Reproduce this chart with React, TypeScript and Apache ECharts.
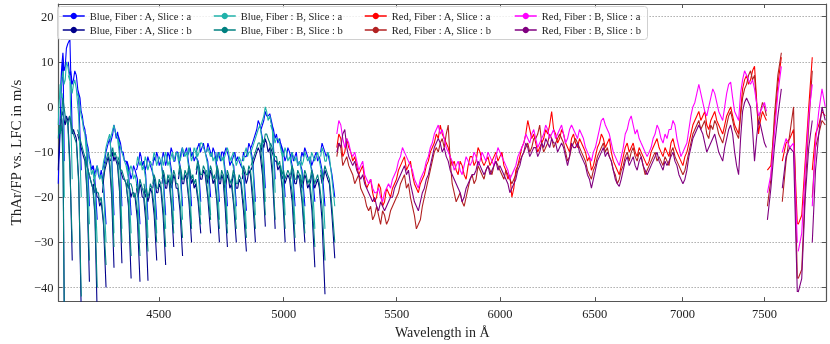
import React, { useEffect, useRef } from 'react';
import * as echarts from 'echarts';

const xTickLabels = [4500, 5000, 5500, 6000, 6500, 7000, 7500];
const yTickLabels = [-40, -30, -20, -10, 0, 10, 20];
const xRange = [4134.6, 7900];
const yRange = [-43, 22.8];

const seriesNames = [
  'Blue, Fiber : A, Slice : a',
  'Blue, Fiber : A, Slice : b',
  'Blue, Fiber : B, Slice : a',
  'Blue, Fiber : B, Slice : b',
  'Red, Fiber : A, Slice : a',
  'Red, Fiber : A, Slice : b',
  'Red, Fiber : B, Slice : a',
  'Red, Fiber : B, Slice : b',
];
const seriesColors = ['#0000ff', '#00008b', '#20b2aa', '#008080', '#ff0000', '#b22222', '#ff00ff', '#800080'];

// Blue arm: echelle orders (wavelength start / end in Å), sample positions inside an order
const blueOrderStart = [4134, 4142, 4169, 4202, 4231, 4258, 4291, 4320, 4347, 4381, 4416, 4444, 4477, 4512, 4542, 4575, 4610, 4644, 4685, 4722, 4752, 4786, 4828, 4864, 4905, 4945, 4987, 5029, 5071, 5113, 5158];
const blueOrderEnd = [4155, 4183, 4215, 4244, 4272, 4304, 4333, 4362, 4396, 4429, 4459, 4492, 4526, 4557, 4591, 4626, 4662, 4701, 4736, 4768, 4804, 4845, 4882, 4923, 4964, 5006, 5048, 5090, 5133, 5177, 5220];
const blueOrderFrac = [0, 0.1, 0.2, 0.3, 0.4, 0.5, 0.62, 0.8, 1];

const blueAa = [
  [-17, -12, -10, -3, 0, 4, 6, 10, -12], [4, 9, 12, 8, 9, 13, 14, 15, -6], [10, 7, 8, 5, 6, 8, 7, 2, -14],
  [4, 3, 2, -1, -2, -4, -5, -10, -22], [-6, -8, -9, -11, -12, -14, -13, -16, -25], [-13, -15, -14, -13, -15, -16, -14, -17, -26],
  [-14, -13, -12, -10, -9, -8, -7, -11, -24], [-8, -7, -6, -4, -5, -7, -5.5, -9, -22], [-6, -7, -8, -10, -10, -12, -12, -14, -24],
  [-12, -13, -14, -16, -15, -13, -14, -16, -26], [-14, -13, -12, -10, -11, -13, -12, -15, -25], [-12, -14, -13, -11, -12, -13, -14, -16, -25],
  [-13, -11, -12, -10, -11, -13, -12, -15, -24], [-12, -10, -11, -13, -12, -10, -11, -14, -23], [-11, -9, -10, -12, -12, -10, -10, -13, -22],
  [-11, -12, -10, -9, -11, -10, -9, -13, -22], [-11, -10, -9, -11, -10, -12, -11, -12, -21], [-10, -9, -8, -10, -9, -8, -10, -12, -20],
  [-10, -8, -9, -10, -11, -9, -10, -13, -21], [-11, -12, -10, -11, -12, -10, -10, -14, -22], [-11, -10, -9, -10, -11, -13, -12, -13, -22],
  [-12, -11, -10, -12, -11, -12, -13, -14, -23], [-12, -10, -11, -11, -10, -8, -9, -12, -21], [-9, -8, -7, -6, -5, -3, -4, -7, -18],
  [-5, -4, -3, -1, -2, -2, -1.5, -4, -16], [-3, -4, -5, -7, -6, -8, -7, -10, -20], [-8, -9, -10, -12, -11, -9, -10, -13, -22],
  [-11, -10, -12, -11, -10, -13, -12, -14, -22], [-12, -10, -11, -9, -10, -11, -12, -14, -21], [-11, -13, -12, -11, -10, -12, -11, -14, -22],
  [-10, -8, -9, -10, -11, -10, -12, -15, -20],
];
const blueAb = [
  [-14, -10, -8, -5, -4, -2, -3, -10, -46], [-3, -2, -1, -3, -4, -2, -3, -12, -34], [-3, -2, -4, -6, -5, -6, -7, -16, -46],
  [-6, -7, -8, -9, -10, -11, -12, -19, -38.7], [-12, -13, -14, -15, -16, -17, -18, -24, -46], [-17, -19, -18, -20, -20, -22, -21, -26, -40],
  [-19, -16, -14, -13, -12, -11, -13, -20, -35.6], [-12, -11, -10, -12, -11, -12, -13, -19, -34.6], [-12, -13, -14, -15, -16, -16, -17, -22, -38],
  [-17, -18, -18, -20, -19, -19, -20, -25, -38.7], [-18, -20, -19, -17, -18, -20, -20, -25, -38.5], [-18, -20, -19, -21, -20, -18, -19, -24, -34],
  [-18, -16, -17, -19, -19, -17, -18, -24, -35], [-17, -15, -16, -18, -18, -16, -17, -22, -31], [-16, -18, -17, -15, -16, -18, -18, -23, -33],
  [-16, -14, -15, -17, -17, -15, -16, -21, -30], [-16, -14, -15, -17, -16, -18, -17, -21, -28], [-15, -13, -14, -16, -16, -14, -15, -20, -28],
  [-15, -17, -16, -14, -15, -17, -16, -21, -30], [-16, -14, -15, -17, -17, -15, -16, -22, -31], [-16, -18, -17, -15, -16, -18, -17, -22, -30],
  [-17, -15, -16, -18, -18, -16, -17, -23, -32], [-16, -14, -15, -17, -16, -14, -15, -21, -30], [-14, -13, -12, -11, -10, -9, -10, -15, -26.5],
  [-10, -8, -9, -7, -8, -10, -9, -15, -27], [-9, -10, -11, -12, -12, -14, -13, -18, -30], [-14, -16, -15, -17, -16, -15, -16, -21, -32],
  [-16, -14, -15, -17, -17, -15, -16, -21, -30], [-16, -18, -17, -15, -16, -18, -17, -23, -35.5], [-17, -15, -16, -18, -17, -16, -18, -25, -41.5],
  [-15, -17, -16, -14, -15, -16, -17, -24, -33.5],
];
const blueBa = [
  [-4, 0, 2, 5, 4, 2, 3, 0, -20], [3, 6, 8, 5, 6, 10, 9, 6, -16], [7, 6, 5, 3, 5, 6, 4, -2, -20],
  [3, 2, 0, -2, -3, -5, -6, -12, -26], [-7, -9, -10, -12, -13, -15, -14, -18, -30], [-14, -16, -15, -13, -14, -16, -15, -18, -30],
  [-14, -12, -11, -9, -8, -7, -6, -12, -28], [-7, -6, -5, -4, -5.5, -6, -7, -11, -27], [-7, -8, -9, -10, -11, -12, -13, -16, -28],
  [-13, -15, -14, -13, -14, -16, -15, -18, -30], [-13, -11, -12, -13, -12, -14, -13, -16, -29], [-13, -11, -12, -14, -13, -12, -13, -17, -28],
  [-12, -10, -11, -13, -12, -11, -12, -16, -27], [-11, -13, -12, -10, -11, -13, -12, -15, -26], [-12, -11, -10, -12, -11, -10, -11, -14, -25],
  [-10, -12, -11, -9, -10, -11, -10, -14, -26], [-11, -9, -10, -12, -11, -9, -10, -13, -24], [-9, -11, -10, -8, -8, -9, -10, -13, -24],
  [-10, -9, -10, -11, -10, -12, -11, -14, -25], [-10, -12, -11, -10, -11, -12, -11, -15, -26], [-12, -11, -10, -9, -10, -12, -11, -14, -25],
  [-11, -10, -11, -13, -12, -11, -12, -15, -27], [-11, -12, -10, -9, -11, -10, -10, -13, -24], [-10, -9, -8, -7, -6, -5, -4, -8, -21],
  [-4, -3, -2, 0, -1, -3, -2, -5, -19], [-4, -5, -6, -8, -7, -7, -8, -11, -24], [-9, -10, -11, -9, -10, -12, -11, -14, -26],
  [-12, -10, -11, -12, -11, -13, -12, -15, -26], [-11, -13, -12, -10, -11, -12, -11, -15, -27], [-12, -10, -11, -12, -11, -10, -12, -15, -27],
  [-11, -9, -10, -12, -12, -10, -11, -16, -22],
];
const blueBb = [
  [-7, -5, -4, -6, -5, -4, -6, -14, -46], [-5, -1, 2, 0, -2, -3, -4, -14, -30], [-4, -2, -3, -5, -6, -7, -8, -17, -42],
  [-5, -6, -7, -8, -9, -10, -11, -18, -34], [-11, -13, -14, -15, -16, -17, -18, -23, -40], [-16, -17, -18, -19, -19, -21, -20, -25, -35],
  [-17, -15, -13, -12, -11, -10, -12, -18, -31], [-11, -10, -9, -11, -10, -11, -12, -18, -30], [-11, -12, -14, -14, -15, -16, -17, -21, -33],
  [-16, -18, -17, -17, -18, -20, -19, -23, -33], [-17, -19, -18, -16, -17, -18, -19, -23, -32], [-17, -19, -18, -20, -19, -17, -18, -22, -30],
  [-17, -15, -16, -18, -18, -16, -17, -22, -31], [-16, -14, -15, -17, -17, -15, -16, -21, -28], [-15, -17, -16, -14, -15, -17, -17, -21, -29],
  [-15, -13, -14, -16, -16, -14, -15, -20, -27], [-15, -13, -14, -16, -15, -17, -16, -20, -26], [-14, -12, -13, -15, -15, -13, -14, -19, -25],
  [-14, -16, -15, -13, -14, -16, -15, -20, -27], [-15, -13, -14, -16, -16, -14, -15, -20, -28], [-15, -17, -16, -14, -15, -17, -16, -21, -27],
  [-16, -14, -15, -17, -17, -15, -16, -21, -29], [-15, -13, -14, -15, -15, -13, -14, -19, -27], [-13, -12, -11, -10, -9, -8, -8, -13, -24],
  [-9, -7, -8, -6, -6, -7, -8, -13, -25], [-8, -9, -10, -11, -11, -13, -12, -17, -27], [-13, -15, -14, -16, -15, -14, -15, -19, -29],
  [-15, -13, -14, -16, -16, -14, -15, -20, -28], [-15, -17, -16, -14, -15, -17, -16, -21, -31], [-16, -14, -15, -17, -16, -15, -17, -22, -34],
  [-14, -16, -15, -13, -14, -15, -16, -22, -30],
];

// Red arm: segments (wavelength start / end in Å)
const redSegStart = [5229, 7519, 7614, 7717, 7809];
const redSegEnd = [7513, 7608, 7711, 7809, 7895];

const redAa = [
  [-9, -6, -7, -11, -10, -7, -9, -10, -12, -11, -13, -15, -14, -13, -16, -18, -17, -16, -19, -21,
   -20, -17, -18, -22, -21, -18, -19, -20, -18, -17, -16, -14, -13, -12, -11, -14, -13, -12, -15, -17,
   -18, -19, -17, -16, -15, -13, -12, -10, -9, -8, -6, -7, -4, -6, -7, -8, -9, -11, -13, -12,
   -14, -15, -12, -13, -15, -16, -13, -11, -11, -13, -12, -9, -10, -12, -13, -12, -11, -13, -12, -11,
   -10, -12, -11, -10, -13, -14, -16, -15, -20, -18, -14, -13, -11, -9, -8, -6, -3, -5, -7, -6,
   -8, -10, -9, -8, -7, -5, -6, -4, -1, -5, -6, -8, -7, -5, -6, -8, -9, -10, -7, -6,
   -8, -9, -7, -8, -9, -10, -12, -11, -14, -13, -11, -9, -8, -6, -7, -9, -8, -7, -10, -12,
   -13, -14, -15, -13, -11, -9, -8, -10, -9, -8, -10, -11, -9, -10, -11, -12, -13, -12, -10, -9,
   -8, -7, -9, -10, -11, -9, -10, -11, -8, -7, -9, -10, -11, -12, -13, -11, -10, -8, -6, -4,
   -3, -2, -1, -3, -2, -1, -4, -5, -3, -2, -1, -3, -4, -5, -6, -4, -2, -1, 0, -2,
   -4, -5, -6, -1, 4, 6, 7, 5, 6, 8, 9, 2, -6, -3, -1, -2, -3],
  [-14, -13, -4, 5, 11],
  [-12, -8, -7, -5, -26],
  [-26, -24, -12, 0, 11],
  [-14, -6, -4, -1, -2],
];
const redAb = [
  [-11, -8, -9, -13, -12, -11, -13, -14, -15, -17, -16, -15, -18, -19, -20, -22, -23, -22, -25, -24,
   -22, -24, -26, -23, -24, -26, -25, -23, -22, -21, -20, -19, -17, -16, -15, -18, -17, -20, -22, -24,
   -27, -26, -25, -22, -20, -18, -16, -14, -12, -10, -9, -10, -8, -7, -9, -6, -4, -12, -17, -19,
   -21, -20, -19, -21, -22, -20, -18, -16, -15, -17, -16, -13, -14, -15, -16, -14, -13, -14, -15, -13,
   -12, -13, -14, -15, -16, -14, -15, -16, -17, -16, -15, -13, -12, -11, -10, -9, -8, -10, -9, -7,
   -7, -6, -4, -8, -10, -9, -8, -6, -7, -9, -8, -7, -6, -7, -8, -10, -12, -11, -9, -8,
   -7, -8, -9, -10, -11, -12, -14, -15, -16, -14, -13, -11, -10, -9, -8, -10, -9, -11, -12, -14,
   -15, -17, -16, -14, -13, -11, -10, -12, -10, -9, -11, -12, -10, -11, -13, -15, -14, -13, -12, -11,
   -10, -12, -11, -12, -13, -11, -12, -13, -10, -9, -11, -12, -13, -14, -15, -14, -12, -10, -8, -6,
   -5, -4, -3, -5, -4, -3, -6, -7, -4, -5, -3, -4, -6, -7, -8, -6, -4, -2, -1, -3,
   -5, -6, -7, -2, 2, 4, 5, 7, 8, 6, 7, 1, -4, -1, 1, 0, -2],
  [-22, -16, -2, 7, 12],
  [-21, -12, -6, 0, -38],
  [-38, -36, -18, -4, 8],
  [-20, -9, -6, -3, -4],
];
const redBa = [
  [-6, -3, -4, -7, -9, -7, -8, -10, -11, -10, -12, -14, -13, -12, -15, -16, -17, -16, -18, -19,
   -19, -18, -20, -21, -19, -18, -17, -18, -16, -15, -14, -12, -11, -9, -10, -11, -12, -13, -14, -16,
   -17, -18, -16, -15, -14, -12, -11, -9, -8, -6, -5, -4, -6, -5, -7, -9, -10, -11, -12, -14,
   -13, -12, -14, -15, -13, -11, -12, -13, -12, -10, -11, -13, -12, -10, -11, -12, -10, -11, -12, -13,
   -11, -9, -10, -11, -12, -13, -14, -16, -15, -14, -13, -11, -10, -9, -8, -6, -7, -8, -6, -5,
   -7, -9, -8, -7, -6, -4, -5, -7, -6, -5, -7, -6, -5, -4, -6, -8, -7, -5, -4, -5,
   -6, -7, -5, -6, -7, -9, -10, -11, -12, -10, -9, -7, -5, -3, -2.5, -4, -5, -6, -8, -10,
   -11, -12, -13, -11, -9, -6, -5, -3, -2, -4, -6, -5, -7, -8, -9, -10, -11, -10, -9, -7,
   -6, -4, -5, -7, -8, -6, -7, -5, -5, -3, -4, -7, -9, -11, -10, -9, -8, -5, -2, 0,
   1, 3, 5, 3, 1, -1, -2, 0, 2, 4, 3, 1, -1, -2, -3, 0, 3, 5, 5.5, 2,
   -1, -2, -3, 3, 6, 8, 7, 6, 5, 6, 4, 1, -2, -1, 0, 1, -1],
  [-19, -15, -6, 3, 9],
  [-10, -7, -9, -8, -30],
  [-32, -28, -14, -2, 5],
  [-22, -8, -1, 4, 0],
];
const redBb = [
  [-10, -8, -9, -6, -5, -9, -11, -12, -13, -12, -14, -15, -16, -15, -17, -18, -19, -20, -21, -20,
   -22, -23, -21, -22, -23, -22, -21, -20, -20, -18, -17, -16, -15, -14, -13, -15, -14, -17, -19, -21,
   -22, -23, -21, -19, -18, -16, -15, -13, -11, -9, -8, -7, -8, -10, -9, -11, -12, -14, -15, -16,
   -17, -18, -19, -21, -20, -18, -17, -16, -15, -15, -14, -12, -13, -14, -15, -14, -13, -15, -14, -13,
   -12, -14, -13, -14, -15, -16, -17, -19, -18, -17, -16, -14, -13, -11, -10, -8, -9, -11, -10, -9,
   -9, -11, -10, -8, -9, -7, -8, -9, -7, -8, -8, -10, -9, -8, -9, -11, -13, -11, -8, -9,
   -9, -8, -10, -11, -12, -13, -15, -16, -18, -16, -14, -12, -11, -10, -9, -11, -10, -11, -12, -14,
   -16, -17, -17.6, -16, -14, -12, -11, -13, -12, -11, -13, -14, -12, -11, -13, -14, -15, -14, -13, -12,
   -11, -10, -12, -13, -14, -12, -13, -12, -11, -10, -12, -13, -15, -16, -17, -16, -14, -11, -9, -7,
   -6, -5, -4, -5, -6, -8, -10, -9, -8, -7, -6, -8, -10, -11, -12, -9, -7, -5, -4, -6,
   -10, -13, -15, -7, -1, 1, 2, 1, 0, -5, -12, -7, -3, -4, -6, -8, -9],
  [-25, -18, -9, -2, 4],
  [-18, -11, -9, -10, -41],
  [-41, -38, -20, -9, -3],
  [-30, -14, -6, 0, -3],
];

const FONT = "'Liberation Serif', 'DejaVu Serif', serif";

function buildData(starts: number[], ends: number[], values: number[][], frac?: number[]) {
  const out: any[] = [];
  values.forEach((seg, k) => {
    const a = Math.log(starts[k]);
    const b = Math.log(ends[k]);
    const n = seg.length;
    seg.forEach((v, j) => {
      const f = frac ? frac[j] : j / (n - 1);
      out.push([a + (b - a) * f, v]);
    });
    out.push([b, null]);
  });
  return out;
}

const fmtNum = (v: number) => (v < 0 ? '\u2212' + Math.abs(v) : String(v));

export default function App() {
  const ref = useRef<HTMLDivElement>(null);
  useEffect(() => {
    if (!ref.current) return;
    const chart = echarts.init(ref.current, undefined, { renderer: 'svg' });
    const xTicks = xTickLabels.map((v) => Math.log(v));
    const dataSets = [
      buildData(blueOrderStart, blueOrderEnd, blueAa, blueOrderFrac),
      buildData(blueOrderStart, blueOrderEnd, blueAb, blueOrderFrac),
      buildData(blueOrderStart, blueOrderEnd, blueBa, blueOrderFrac),
      buildData(blueOrderStart, blueOrderEnd, blueBb, blueOrderFrac),
      buildData(redSegStart, redSegEnd, redAa),
      buildData(redSegStart, redSegEnd, redAb),
      buildData(redSegStart, redSegEnd, redBa),
      buildData(redSegStart, redSegEnd, redBb),
    ];
    const frame = { show: true, onZero: false, lineStyle: { color: '#555', width: 1.2 } };
    const legendLefts = [62, 213, 364, 514];
    chart.setOption({
      animation: false,
      grid: { left: 54, right: 4, top: 4, bottom: 38 },
      graphic: [
        {
          type: 'rect',
          left: 57,
          top: 6,
          z: 3,
          shape: { width: 590, height: 33, r: 3 },
          style: { fill: 'rgba(255,255,255,0.8)', stroke: '#d0d0d0', lineWidth: 1 },
        },
      ],
      legend: legendLefts.map((left, c) => ({
        orient: 'vertical',
        left,
        top: 10,
        padding: 0,
        z: 4,
        itemWidth: 22,
        itemHeight: 8,
        itemGap: 2,
        data: [seriesNames[2 * c], seriesNames[2 * c + 1]],
        textStyle: { fontFamily: FONT, fontSize: 10.5, color: '#222', lineHeight: 12 },
        lineStyle: { width: 1.5 },
      })),
      xAxis: [
        {
          type: 'value',
          position: 'bottom',
          min: Math.log(xRange[0]),
          max: Math.log(xRange[1]),
          axisLine: frame,
          axisTick: { show: true, inside: true, length: 4, customValues: xTicks, lineStyle: { color: '#555' } },
          axisLabel: {
            customValues: xTicks,
            formatter: (v: number) => String(Math.round(Math.exp(v) / 10) * 10),
            fontFamily: FONT,
            fontSize: 12.5,
            color: '#222',
            margin: 6,
          },
          splitLine: { show: false },
          name: 'Wavelength in Å',
          nameLocation: 'middle',
          nameGap: 17,
          nameTextStyle: { fontFamily: FONT, fontSize: 14, color: '#222' },
        },
        {
          type: 'value',
          position: 'top',
          min: Math.log(xRange[0]),
          max: Math.log(xRange[1]),
          axisLine: frame,
          axisTick: { show: true, inside: true, length: 4, customValues: xTicks, lineStyle: { color: '#555' } },
          axisLabel: { show: false },
          splitLine: { show: false },
        },
      ],
      yAxis: [
        {
          type: 'value',
          min: yRange[0],
          max: yRange[1],
          axisLine: frame,
          axisTick: { show: true, inside: true, length: 4, customValues: yTickLabels, lineStyle: { color: '#555' } },
          axisLabel: {
            customValues: yTickLabels,
            formatter: fmtNum,
            fontFamily: FONT,
            fontSize: 12.5,
            color: '#222',
            margin: 5,
          },
          splitLine: { show: true, lineStyle: { color: '#999', width: 0.8, type: [1.5, 1.5] } },
          name: 'ThAr/FP vs. LFC in m/s',
          nameLocation: 'middle',
          nameGap: 30,
          nameRotate: 90,
          nameTextStyle: { fontFamily: FONT, fontSize: 15, color: '#222' },
        },
        {
          type: 'value',
          position: 'right',
          min: yRange[0],
          max: yRange[1],
          axisLine: frame,
          axisTick: { show: true, inside: true, length: 4, customValues: yTickLabels, lineStyle: { color: '#555' } },
          axisLabel: { show: false },
          splitLine: { show: false },
        },
      ],
      series: dataSets.map((data, i) => ({
        type: 'line',
        name: seriesNames[i],
        data,
        xAxisIndex: 0,
        yAxisIndex: 0,
        symbol: 'circle',
        symbolSize: 6,
        showSymbol: false,
        connectNulls: false,
        silent: true,
        z: 2,
        color: seriesColors[i],
        itemStyle: { color: seriesColors[i] },
        lineStyle: { width: 1.1, color: seriesColors[i] },
      })),
    });
    return () => chart.dispose();
  }, []);
  return <div ref={ref} style={{ position: 'fixed', left: 0, top: 0, width: 830, height: 344 }} />;
}
